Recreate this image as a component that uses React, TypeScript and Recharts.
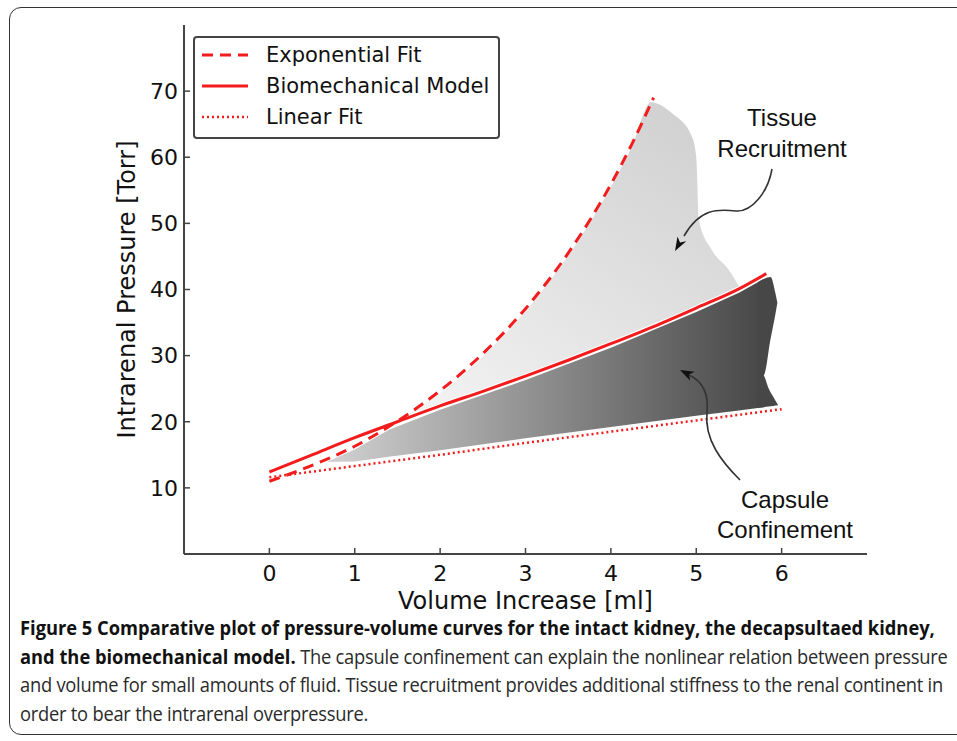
import React from "react";
import { ComposedChart, Line, Area, XAxis, YAxis, Legend, Label } from "recharts";

const RED = "#f31c1c";
const INK = "#111";
const FRAME = "#444";

const volumeTicks = [0, 1, 2, 3, 4, 5, 6];
const pressureTicks = [10, 20, 30, 40, 50, 60, 70];

// Exponential fit (dashed)
const expVolume = [0, 0.5, 1, 1.5, 2, 2.5, 3, 3.5, 4, 4.25, 4.5];
const expPressure = [11.0, 13.4, 16.3, 20.1, 24.7, 30.3, 37.1, 45.5, 55.9, 62.1, 69.0];

// Biomechanical model (solid)
const modelVolume = [0, 0.5, 1, 1.5, 2, 2.5, 3, 3.5, 4, 4.5, 5, 5.5, 5.82];
const modelPressure = [12.4, 15.0, 17.6, 20.0, 22.4, 24.6, 26.9, 29.3, 31.8, 34.4, 37.2, 40.1, 42.4];

// Linear fit (dotted)
const linVolume = [0, 1, 2, 3, 4, 5, 6];
const linPressure = [11.6, 13.3, 15.0, 16.8, 18.5, 20.2, 21.9];

// tissue recruitment band (light)
const recruitVolume = [1.6, 2.0, 2.5, 3.0, 3.5, 4.0, 4.25, 4.47, 4.72, 4.95, 5.0, 5.03, 5.18, 5.38, 5.5];
const recruitLow = [20.9, 22.8, 25.0, 27.3, 29.7, 32.2, 33.5, 34.7, 36.0, 37.3, 37.6, 37.8, 38.6, 39.8, 40.5];
const recruitHigh = [20.9, 24.3, 29.9, 36.7, 45.1, 55.5, 61.7, 68.3, 66.6, 63.1, 60.0, 50.5, 46.0, 43.0, 40.5];

// capsule confinement band (dark), main body + the two lobes of the notched right edge
const capsuleVolume = [0.67, 1.0, 1.4, 2.0, 3.0, 4.0, 5.0, 5.5, 5.79];
const capsuleLow = [13.9, 14.0, 14.7, 15.7, 17.5, 19.2, 20.9, 21.7, 22.2];
const capsuleHigh = [13.9, 15.8, 18.8, 21.8, 26.3, 31.2, 36.6, 39.5, 41.6];

const lobeTopVolume = [5.72, 5.79, 5.87, 5.93, 5.95];
const lobeTopLow = [27.5, 27.0, 32.5, 36.5, 38.0];
const lobeTopHigh = [41.1, 41.6, 41.9, 39.3, 38.0];

const lobeBottomVolume = [5.72, 5.79, 5.85, 5.9, 5.96];
const lobeBottomLow = [22.1, 22.2, 22.3, 22.4, 22.5];
const lobeBottomHigh = [27.5, 27.0, 25.0, 23.8, 22.5];

const legendNames = ["Exponential Fit", "Biomechanical Model", "Linear Fit"];

const pts = (xs: number[], ys: number[]) => xs.map((v, i) => ({ v, p: ys[i] }));
const band = (xs: number[], lo: number[], hi: number[]) =>
  xs.map((v, i) => ({ v, p: [lo[i], hi[i]] }));

const expData = pts(expVolume, expPressure);
const modelData = pts(modelVolume, modelPressure);
const linData = pts(linVolume, linPressure);
const recruitData = band(recruitVolume, recruitLow, recruitHigh);
const capsuleData = band(capsuleVolume, capsuleLow, capsuleHigh);
const lobeTopData = band(lobeTopVolume, lobeTopLow, lobeTopHigh);
const lobeBottomData = band(lobeBottomVolume, lobeBottomLow, lobeBottomHigh);

const lineStyles = [
  { width: 3, dash: "11 7" },
  { width: 3, dash: undefined },
  { width: 2.5, dash: "2 3" },
];

const tickFont = { fill: INK, fontSize: 22, fontFamily: "DejaVu Sans" };

function LegendBox() {
  return (
    <svg width={308} height={104} style={{ display: "block" }}>
      <rect x={1} y={1} width={305} height={101} rx={3} fill="#fff" stroke={FRAME} strokeWidth={2} />
      {legendNames.map((name, i) => {
        const y = 19 + i * 31;
        return (
          <g key={name}>
            <line x1={9} x2={55} y1={y} y2={y} stroke={RED} strokeWidth={lineStyles[i].width} strokeDasharray={lineStyles[i].dash} />
            <text x={73} y={y} dominantBaseline="central" fontSize={21} fontFamily="DejaVu Sans" fill={INK}>
              {name}
            </text>
          </g>
        );
      })}
    </svg>
  );
}

function Annotations() {
  const font = { fontFamily: "'Liberation Sans', Arial, sans-serif", fontSize: 24, fill: INK, textAnchor: "middle" as const };
  return (
    <svg width={957} height={741} style={{ position: "absolute", left: 0, top: 0, pointerEvents: "none" }}>
      <text x={782} y={126} {...font}>Tissue</text>
      <text x={782} y={157} {...font}>Recruitment</text>
      <path d="M 772 169 C 768 192, 752 212, 736 211 C 718 209, 700 208, 684 236" fill="none" stroke="#333" strokeWidth={1.6} />
      <polygon points="675,251 677.5,236.4 680,242.5 686.3,241.3" fill="#111" />
      <text x={785} y={508} {...font}>Capsule</text>
      <text x={785} y={538} {...font}>Confinement</text>
      <path d="M 740 480 C 722 462, 704 440, 707 412 C 709 392, 702 381, 689 375" fill="none" stroke="#333" strokeWidth={1.6} />
      <polygon points="680,370 694.7,371.8 688.9,374.5 690.2,380.8" fill="#111" />
    </svg>
  );
}

const regular = { letterSpacing: "-0.25px" };

export default function App() {
  return (
    <div style={{ position: "absolute", left: 0, top: 0, width: 957, height: 741, overflow: "hidden", background: "#fff" }}>
      <div style={{ position: "absolute", left: 9, top: 7, width: 980, height: 728, border: "1.5px solid #333", borderRadius: 12, boxSizing: "border-box" }} />
      <div style={{ position: "absolute", left: 0, top: 0 }}>
        <ComposedChart width={957} height={660} margin={{ top: 25, right: 90, bottom: 36, left: 124 }}>
          <defs>
            <linearGradient id="recruitFill" x1="0" y1="1" x2="0.7" y2="0">
              <stop offset="0%" stopColor="#f4f4f4" />
              <stop offset="100%" stopColor="#d2d2d2" />
            </linearGradient>
            <linearGradient id="capsuleFill" x1="0" y1="0" x2="1" y2="0">
              <stop offset="0%" stopColor="#d2d2d2" />
              <stop offset="100%" stopColor="#474747" />
            </linearGradient>
          </defs>
          <XAxis
            dataKey="v"
            type="number"
            domain={[-1, 7]}
            ticks={volumeTicks}
            allowDataOverflow
            height={70}
            tickSize={-6}
            tickMargin={17}
            tick={tickFont}
            axisLine={{ stroke: FRAME, strokeWidth: 2 }}
            tickLine={{ stroke: FRAME, strokeWidth: 1.5 }}
          >
            <Label value="Volume Increase [ml]" position="insideBottom" offset={15} fill={INK} fontSize={24} fontFamily="DejaVu Sans" />
          </XAxis>
          <XAxis
            xAxisId="top"
            orientation="top"
            type="number"
            domain={[-1, 7]}
            ticks={volumeTicks}
            height={0}
            tickSize={-6}
            tick={false}
            axisLine={{ stroke: FRAME, strokeWidth: 2 }}
            tickLine={{ stroke: FRAME, strokeWidth: 1.5 }}
          />
          <YAxis
            type="number"
            domain={[0, 80]}
            ticks={pressureTicks}
            allowDataOverflow
            width={60}
            tickSize={-6}
            tickMargin={12}
            tick={tickFont}
            axisLine={{ stroke: FRAME, strokeWidth: 2 }}
            tickLine={{ stroke: FRAME, strokeWidth: 1.5 }}
          >
            <Label
              value="Intrarenal Pressure [Torr]"
              angle={-90}
              position="insideLeft"
              offset={2}
              fill={INK}
              fontSize={24}
              fontFamily="DejaVu Sans"
              style={{ textAnchor: "middle" }}
            />
          </YAxis>
          <YAxis
            yAxisId="right"
            orientation="right"
            type="number"
            domain={[0, 80]}
            ticks={pressureTicks}
            width={0}
            tickSize={-6}
            tick={false}
            axisLine={{ stroke: FRAME, strokeWidth: 2 }}
            tickLine={{ stroke: FRAME, strokeWidth: 1.5 }}
          />

          <Area data={recruitData} dataKey="p" type="monotone" stroke="none" fill="url(#recruitFill)" fillOpacity={1} isAnimationActive={false} legendType="none" />
          <Area data={capsuleData} dataKey="p" type="linear" stroke="none" fill="url(#capsuleFill)" fillOpacity={1} isAnimationActive={false} legendType="none" />
          <Area data={lobeTopData} dataKey="p" type="monotone" stroke="none" fill="#474747" fillOpacity={1} isAnimationActive={false} legendType="none" />
          <Area data={lobeBottomData} dataKey="p" type="monotone" stroke="none" fill="#474747" fillOpacity={1} isAnimationActive={false} legendType="none" />

          <Line data={linData} dataKey="p" name="Linear Fit" type="linear" stroke={RED} strokeWidth={2.5} strokeDasharray="2 3" dot={false} activeDot={false} isAnimationActive={false} />
          <Line data={modelData} dataKey="p" name="Biomechanical Model" type="monotone" stroke={RED} strokeWidth={3} dot={false} activeDot={false} isAnimationActive={false} />
          <Line data={expData} dataKey="p" name="Exponential Fit" type="monotone" stroke={RED} strokeWidth={3} strokeDasharray="11 7" dot={false} activeDot={false} isAnimationActive={false} />

          <Legend
            layout="vertical"
            align="center"
            verticalAlign="middle"
            content={() => <LegendBox />}
            wrapperStyle={{ left: 193, top: 36, width: 308, height: 104 }}
          />
        </ComposedChart>
      </div>
      <Annotations />
      <div
        style={{
          position: "absolute",
          left: 20,
          top: 614,
          fontFamily: "'Open Sans', sans-serif",
          fontSize: 20,
          lineHeight: "28.5px",
          color: "#2a2a2a",
          whiteSpace: "nowrap",
          transform: "scaleX(0.915)",
          transformOrigin: "0 0",
        }}
      >
        <div style={{ fontWeight: 700, color: "#111" }}>
          Figure 5 Comparative plot of pressure-volume curves for the intact kidney, the decapsultaed kidney,
        </div>
        <div>
          <b style={{ color: "#111" }}>and the biomechanical model.</b>
          <span style={regular}> The capsule confinement can explain the nonlinear relation between pressure</span>
        </div>
        <div style={regular}>and volume for small amounts of fluid. Tissue recruitment provides additional stiffness to the renal continent in</div>
        <div style={regular}>order to bear the intrarenal overpressure.</div>
      </div>
    </div>
  );
}
